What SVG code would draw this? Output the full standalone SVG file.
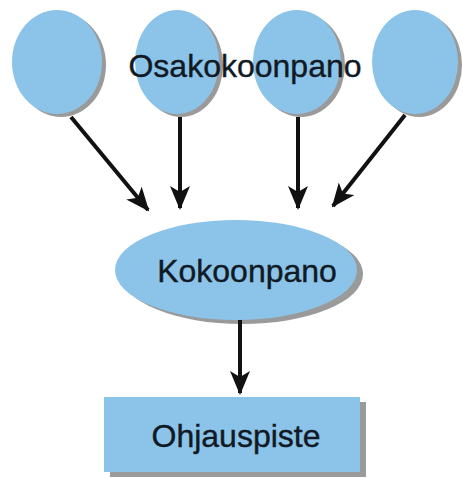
<svg xmlns="http://www.w3.org/2000/svg" width="463" height="478" viewBox="0 0 463 478">
<defs>
<style>
.n{fill:#8CC4E9}
.sh{fill:#9a9a9a}
.t{font-family:"Liberation Sans",Arial,sans-serif;font-size:32px;fill:#111a24;stroke:#111a24;stroke-width:0.4;text-anchor:middle}
.c{stroke:#111;stroke-width:4;fill:none}
</style>
<marker id="ah" viewBox="0 0 24 20" refX="22" refY="10" markerWidth="24" markerHeight="20" markerUnits="userSpaceOnUse" orient="auto">
<path d="M0,0 L24,10 L0,20 L6,10 Z" fill="#111"/>
</marker>
</defs>
<rect width="463" height="478" fill="#fff"/>
<g id="sub1"><ellipse class="sh" cx="61" cy="65" rx="45" ry="52"/><ellipse class="n" cx="57" cy="62" rx="45" ry="52"/></g>
<g id="sub2"><ellipse class="sh" cx="181" cy="65" rx="42" ry="52"/><ellipse class="n" cx="177" cy="62" rx="42" ry="52"/></g>
<g id="sub3"><ellipse class="sh" cx="301" cy="65" rx="44" ry="52"/><ellipse class="n" cx="297" cy="62" rx="44" ry="52"/></g>
<g id="sub4"><ellipse class="sh" cx="419" cy="65" rx="43" ry="52"/><ellipse class="n" cx="415" cy="62" rx="43" ry="52"/></g>
<g id="label"><text class="t" x="245" y="77">Osakokoonpano</text></g>
<g id="assembly"><ellipse class="sh" cx="242" cy="274" rx="121" ry="50"/><ellipse class="n" cx="236" cy="270" rx="121" ry="50"/><text class="t" x="247" y="282">Kokoonpano</text></g>
<g id="control"><rect class="sh" x="110" y="402" width="256" height="75"/><rect class="n" x="104" y="397" width="256" height="75"/><text class="t" x="236" y="447">Ohjauspiste</text></g>
<g id="connectors">
<line class="c" x1="71" y1="117" x2="148" y2="210" marker-end="url(#ah)"/>
<line class="c" x1="180" y1="117" x2="180" y2="208" marker-end="url(#ah)"/>
<line class="c" x1="298" y1="117" x2="298" y2="208" marker-end="url(#ah)"/>
<line class="c" x1="405" y1="115" x2="333" y2="206" marker-end="url(#ah)"/>
<line class="c" x1="240" y1="320" x2="240" y2="393" marker-end="url(#ah)"/>
</g>
</svg>
